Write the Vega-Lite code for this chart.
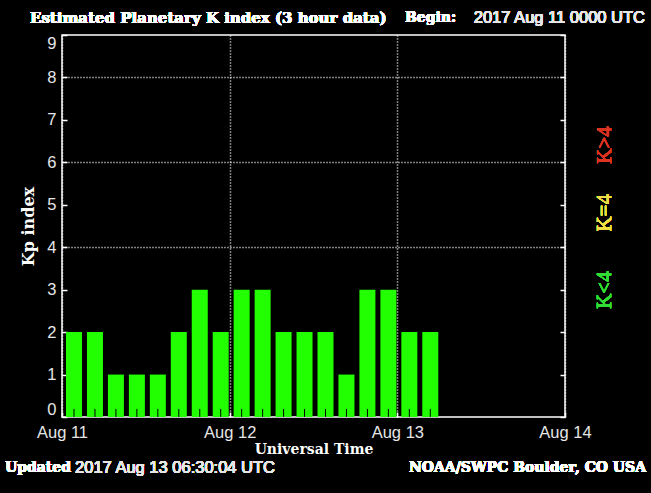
{
  "$schema": "https://vega.github.io/schema/vega-lite/v6.json",
  "width": 503,
  "height": 382,
  "autosize": {"type": "none"},
  "padding": {"left": 62, "top": 35, "right": 86, "bottom": 76},
  "background": "#000000",
  "config": {
    "view": {"stroke": "#ffffff", "strokeWidth": 1.5},
    "text": {"color": "#ffffff"}
  },
  "data": {
    "values": [
      {"start": "2017-08-11T00:00:00Z", "kp": 2},
      {"start": "2017-08-11T03:00:00Z", "kp": 2},
      {"start": "2017-08-11T06:00:00Z", "kp": 1},
      {"start": "2017-08-11T09:00:00Z", "kp": 1},
      {"start": "2017-08-11T12:00:00Z", "kp": 1},
      {"start": "2017-08-11T15:00:00Z", "kp": 2},
      {"start": "2017-08-11T18:00:00Z", "kp": 3},
      {"start": "2017-08-11T21:00:00Z", "kp": 2},
      {"start": "2017-08-12T00:00:00Z", "kp": 3},
      {"start": "2017-08-12T03:00:00Z", "kp": 3},
      {"start": "2017-08-12T06:00:00Z", "kp": 2},
      {"start": "2017-08-12T09:00:00Z", "kp": 2},
      {"start": "2017-08-12T12:00:00Z", "kp": 2},
      {"start": "2017-08-12T15:00:00Z", "kp": 1},
      {"start": "2017-08-12T18:00:00Z", "kp": 3},
      {"start": "2017-08-12T21:00:00Z", "kp": 3},
      {"start": "2017-08-13T00:00:00Z", "kp": 2},
      {"start": "2017-08-13T03:00:00Z", "kp": 2}
    ]
  },
  "resolve": {"axis": {"y": "independent"}},
  "layer": [
    {
      "mark": {"type": "bar", "width": 16, "xOffset": 12, "color": "#22ff00"},
      "encoding": {
        "x": {
          "field": "start",
          "type": "temporal",
          "scale": {
            "type": "utc",
            "padding": 0,
            "domain": [
              {"year": 2017, "month": 8, "date": 11, "utc": true},
              {"year": 2017, "month": 8, "date": 14, "utc": true}
            ]
          },
          "axis": {
            "values": [
              {"year": 2017, "month": 8, "date": 11, "utc": true},
              {"year": 2017, "month": 8, "date": 12, "utc": true},
              {"year": 2017, "month": 8, "date": 13, "utc": true},
              {"year": 2017, "month": 8, "date": 14, "utc": true}
            ],
            "format": "%b %d",
            "labelFont": "Liberation Sans",
            "labelFontSize": 16.5,
            "labelColor": "#e6e6e6",
            "labelFlush": false,
            "labelOverlap": false,
            "labelPadding": 12,
            "tickSize": -5,
            "tickColor": "#ffffff",
            "tickWidth": 1.5,
            "domain": false,
            "grid": true,
            "gridColor": "#ffffff",
            "gridDash": [1, 2],
            "gridWidth": 1.5,
            "title": "Universal Time",
            "titleFont": "DejaVu Serif",
            "titleFontSize": 14,
            "titleFontWeight": "bold",
            "titleColor": "#ffffff",
            "titlePadding": 2
          }
        },
        "y": {
          "field": "kp",
          "type": "quantitative",
          "scale": {"domain": [0, 9], "nice": false},
          "axis": {
            "orient": "left",
            "values": [0, 1, 2, 3, 4, 5, 6, 7, 8, 9],
            "labelFont": "Liberation Sans",
            "labelFontSize": 16.5,
            "labelColor": "#e6e6e6",
            "labelFlush": true,
            "labelOverlap": false,
            "labelPadding": 11,
            "tickSize": -5,
            "tickColor": "#ffffff",
            "tickWidth": 1.5,
            "domain": false,
            "grid": true,
            "gridColor": "#ffffff",
            "gridDash": [1, 2],
            "gridWidth": 1.5,
            "gridOpacity": {"condition": {"test": "datum.value == 4 || datum.value == 6 || datum.value == 8", "value": 1}, "value": 0},
            "title": "Kp index",
            "titleFont": "DejaVu Serif",
            "titleFontSize": 16,
            "titleFontWeight": "bold",
            "titleColor": "#ffffff",
            "titlePadding": 10
          }
        }
      }
    },
    {
      "mark": {"type": "rule", "xOffset": 12, "color": "#000000", "strokeWidth": 1},
      "encoding": {
        "x": {"field": "start", "type": "temporal"},
        "y": {"datum": 0, "type": "quantitative", "axis": null},
        "y2": {"datum": 0.19}
      }
    },
    {
      "mark": {"type": "rule", "opacity": 0},
      "encoding": {
        "y": {
          "datum": 0,
          "type": "quantitative",
          "axis": {
            "orient": "right",
            "values": [0, 1, 2, 3, 4, 5, 6, 7, 8, 9],
            "labels": false,
            "domain": false,
            "grid": false,
            "tickSize": -5,
            "tickColor": "#ffffff",
            "tickWidth": 1.5,
            "title": null
          }
        }
      }
    },
    {
      "mark": {"type": "text", "text": "Estimated Planetary K index (3 hour data)", "align": "left", "baseline": "middle", "font": "DejaVu Serif", "fontSize": 15, "fontWeight": "bold", "color": "#ffffff"},
      "encoding": {
        "x": {"datum": {"year": 2017, "month": 8, "date": 10, "hours": 19, "minutes": 25, "utc": true}, "type": "temporal"},
        "y": {"datum": 9.4, "type": "quantitative", "axis": null}
      }
    },
    {
      "mark": {"type": "text", "text": "Begin:", "align": "left", "baseline": "middle", "font": "DejaVu Serif", "fontSize": 14, "fontWeight": "bold", "color": "#ffffff"},
      "encoding": {
        "x": {"datum": {"year": 2017, "month": 8, "date": 13, "hours": 1, "minutes": 6, "utc": true}, "type": "temporal"},
        "y": {"datum": 9.4, "type": "quantitative", "axis": null}
      }
    },
    {
      "mark": {"type": "text", "text": "2017 Aug 11 0000 UTC", "align": "right", "baseline": "middle", "font": "Liberation Sans", "fontSize": 16.5, "color": "#e6e6e6"},
      "encoding": {
        "x": {"datum": {"year": 2017, "month": 8, "date": 14, "hours": 11, "minutes": 27, "utc": true}, "type": "temporal"},
        "y": {"datum": 9.4, "type": "quantitative", "axis": null}
      }
    },
    {
      "mark": {"type": "text", "text": "Updated", "align": "left", "baseline": "middle", "font": "DejaVu Serif", "fontSize": 14, "fontWeight": "bold", "color": "#ffffff"},
      "encoding": {
        "x": {"datum": {"year": 2017, "month": 8, "date": 10, "hours": 15, "minutes": 50, "utc": true}, "type": "temporal"},
        "y": {"datum": -1.2, "type": "quantitative", "axis": null}
      }
    },
    {
      "mark": {"type": "text", "text": "2017 Aug 13 06:30:04 UTC", "align": "left", "baseline": "middle", "font": "Liberation Sans", "fontSize": 16.5, "color": "#e6e6e6"},
      "encoding": {
        "x": {"datum": {"year": 2017, "month": 8, "date": 11, "hours": 1, "minutes": 52, "utc": true}, "type": "temporal"},
        "y": {"datum": -1.2, "type": "quantitative", "axis": null}
      }
    },
    {
      "mark": {"type": "text", "text": "NOAA/SWPC Boulder, CO USA", "align": "right", "baseline": "middle", "font": "DejaVu Serif", "fontSize": 14, "fontWeight": "bold", "color": "#ffffff"},
      "encoding": {
        "x": {"datum": {"year": 2017, "month": 8, "date": 14, "hours": 11, "minutes": 36, "utc": true}, "type": "temporal"},
        "y": {"datum": -1.2, "type": "quantitative", "axis": null}
      }
    },
    {
      "mark": {"type": "text", "text": "K<4", "angle": 270, "align": "center", "baseline": "middle", "font": "Liberation Serif", "fontSize": 21, "color": "#33dd33"},
      "encoding": {
        "x": {"datum": {"year": 2017, "month": 8, "date": 14, "hours": 5, "minutes": 44, "utc": true}, "type": "temporal"},
        "y": {"datum": 2.99, "type": "quantitative", "axis": null}
      }
    },
    {
      "mark": {"type": "text", "text": "K=4", "angle": 270, "align": "center", "baseline": "middle", "font": "Liberation Serif", "fontSize": 21, "color": "#eedd44"},
      "encoding": {
        "x": {"datum": {"year": 2017, "month": 8, "date": 14, "hours": 5, "minutes": 44, "utc": true}, "type": "temporal"},
        "y": {"datum": 4.81, "type": "quantitative", "axis": null}
      }
    },
    {
      "mark": {"type": "text", "text": "K>4", "angle": 270, "align": "center", "baseline": "middle", "font": "Liberation Serif", "fontSize": 21, "color": "#dd3322"},
      "encoding": {
        "x": {"datum": {"year": 2017, "month": 8, "date": 14, "hours": 5, "minutes": 44, "utc": true}, "type": "temporal"},
        "y": {"datum": 6.41, "type": "quantitative", "axis": null}
      }
    }
  ]
}
